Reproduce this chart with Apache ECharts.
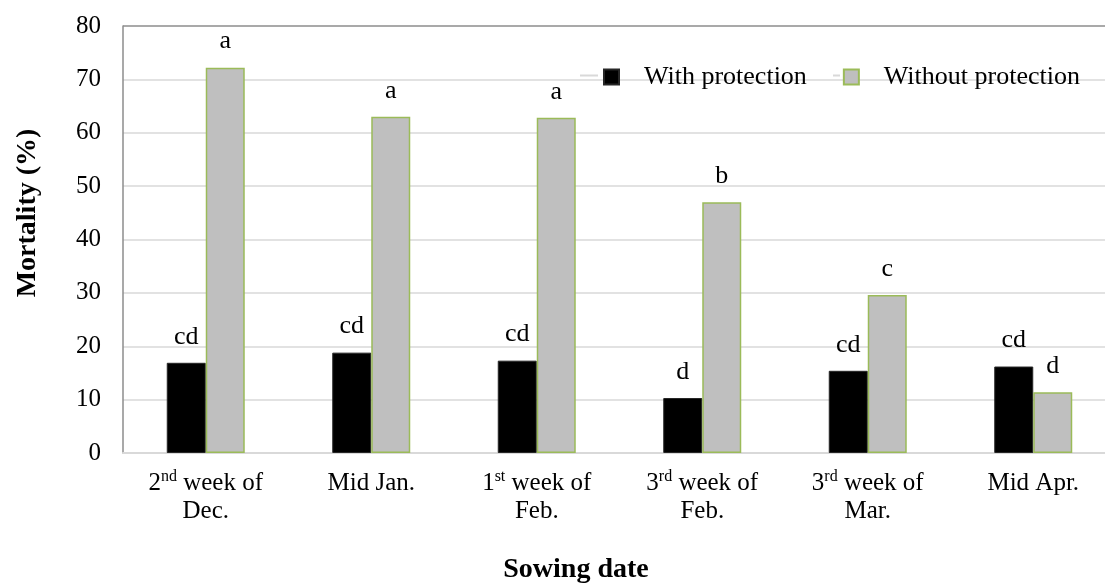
<!DOCTYPE html>
<html>
<head>
<meta charset="utf-8">
<script src="https://cdn.jsdelivr.net/npm/echarts@6/dist/echarts.min.js"></script>
<style>
html,body{margin:0;padding:0;background:#fff;overflow:hidden;width:1105px;height:584px;}
#chart{width:1125px;height:584px;}
</style>
</head>
<body>
<div id="chart"></div>
<script>
var categories = ['2nd week of Dec.', 'Mid Jan.', '1st week of Feb.', '3rd week of Feb.', '3rd week of Mar.', 'Mid Apr.'];
var tickLabels = ['2{sup|nd} week of\nDec.', 'Mid Jan.', '1{sup|st} week of\nFeb.', '3{sup|rd} week of\nFeb.', '3{sup|rd} week of\nMar.', 'Mid Apr.'];
var withProtection = [16.9, 18.8, 17.3, 10.3, 15.4, 16.2];
var withoutProtection = [72.2, 63.0, 62.8, 47.0, 29.6, 11.4];
var withLetters = ['cd', 'cd', 'cd', 'd', 'cd', 'cd'];
var withoutLetters = ['a', 'a', 'a', 'b', 'c', 'd'];
var seriesNames = ['With protection', 'Without protection'];
var yTicks = [0, 10, 20, 30, 40, 50, 60, 70, 80];

var FONT = "'Liberation Serif', 'Times New Roman', serif";
var chart = echarts.init(document.getElementById('chart'));
var splitColors = yTicks.map(function (v, i) { return i === yTicks.length - 1 ? '#8c8c8c' : '#d9d9d9'; });

chart.setOption({
  backgroundColor: '#ffffff',
  animation: false,
  textStyle: { fontFamily: FONT },
  grid: { left: 123, top: 26, width: 993, height: 427, containLabel: false },
  legend: {
    left: 598, top: 59,
    itemWidth: 15, itemHeight: 15, itemGap: 36,
    icon: 'rect',
    data: seriesNames,
    textStyle: { fontFamily: FONT, fontSize: 26, color: '#000', padding: [0, 0, 0, 20] }
  },
  xAxis: {
    type: 'category',
    data: categories,
    axisLine: { show: true, lineStyle: { color: '#d9d9d9', width: 2 } },
    axisTick: { show: false },
    axisLabel: {
      interval: 0,
      margin: 16,
      fontFamily: FONT, fontSize: 25, color: '#000', lineHeight: 28,
      formatter: function (v, i) { return tickLabels[i]; },
      rich: {
        sup: { fontFamily: FONT, fontSize: 16, color: '#000', verticalAlign: 'top', lineHeight: 16, padding: [0, 0, 10, 0] }
      }
    }
  },
  yAxis: {
    type: 'value',
    min: 0, max: 80, interval: 10,
    axisLine: { show: true, lineStyle: { color: '#8c8c8c', width: 1.5 } },
    axisTick: { show: false },
    axisLabel: { margin: 22, fontFamily: FONT, fontSize: 25, color: '#000' },
    splitLine: { show: true, lineStyle: { color: splitColors, width: 1.5 } }
  },
  graphic: [
    { type: 'text', x: 28, y: 213, rotation: Math.PI / 2,
      style: { text: 'Mortality (%)', fontFamily: FONT, fontSize: 28, fontWeight: 'bold', fill: '#000', textAlign: 'center', textVerticalAlign: 'middle' } },
    { type: 'text', x: 576, y: 570,
      style: { text: 'Sowing date', fontFamily: FONT, fontSize: 28, fontWeight: 'bold', fill: '#000', textAlign: 'center', textVerticalAlign: 'middle' } },
    { type: 'line', shape: { x1: 580, y1: 75.5, x2: 598, y2: 75.5 }, style: { stroke: '#d9d9d9', lineWidth: 2 } },
    { type: 'line', shape: { x1: 833, y1: 75.5, x2: 840, y2: 75.5 }, style: { stroke: '#d9d9d9', lineWidth: 2 } }
  ],
  series: [
    {
      name: seriesNames[0], type: 'bar', data: withProtection,
      barWidth: 39, barGap: '0%',
      itemStyle: { color: '#000000', borderColor: '#262626', borderWidth: 1 },
      label: { show: true, position: 'top', distance: 13, fontFamily: FONT, fontSize: 26, color: '#000',
        formatter: function (p) { return withLetters[p.dataIndex]; } }
    },
    {
      name: seriesNames[1], type: 'bar', data: withoutProtection,
      barWidth: 39,
      itemStyle: { color: '#bfbfbf', borderColor: '#9bbb59', borderWidth: 1.5 },
      label: { show: true, position: 'top', distance: 13, fontFamily: FONT, fontSize: 26, color: '#000',
        formatter: function (p) { return withoutLetters[p.dataIndex]; } }
    }
  ]
});
</script>
</body>
</html>
